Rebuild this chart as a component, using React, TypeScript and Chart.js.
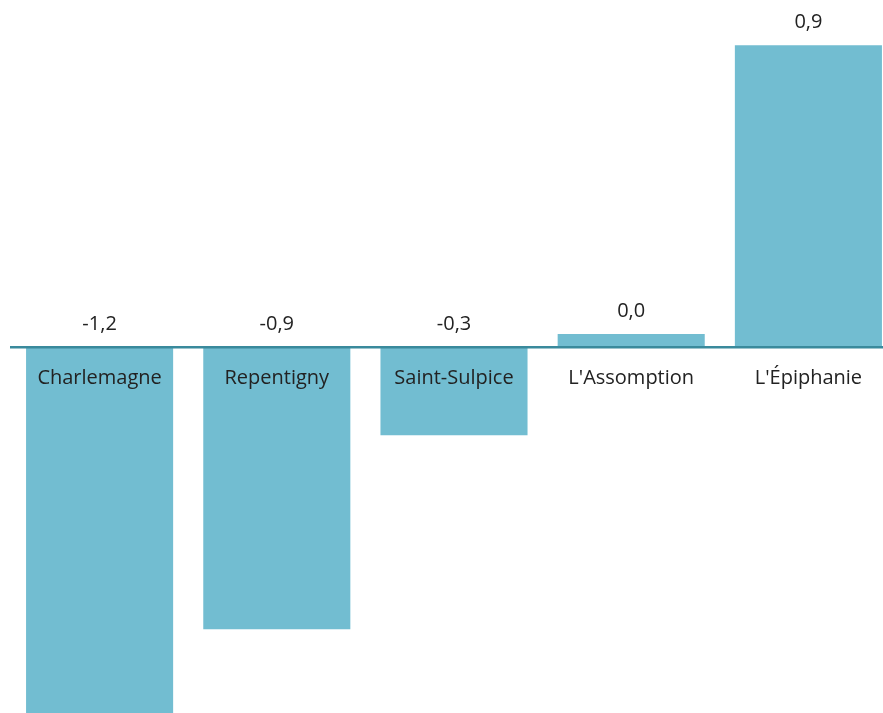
import React, { useEffect, useRef } from "react";
import { Chart, registerables } from "chart.js";

Chart.register(...registerables);

const categories = ["Charlemagne", "Repentigny", "Saint-Sulpice", "L'Assomption", "L'Épiphanie"];
const values = [-1.18, -0.88, -0.275, 0.04, 0.94];

const BAR_COLOR = "#72BDD1";
const AXIS_COLOR = "#3A8A9C";
const TEXT_COLOR = "#222222";
const FONT_FAMILY = "'Open Sans', sans-serif";
const FONT_SIZE = 20;

const fmt = (v: number) => v.toFixed(1).replace(".", ",");

const valueLabels = {
  id: "valueLabels",
  afterDatasetsDraw(chart: any) {
    const { ctx } = chart;
    const meta = chart.getDatasetMeta(0);
    const zeroY = chart.scales.y.getPixelForValue(0);
    ctx.save();
    ctx.font = `${FONT_SIZE}px ${FONT_FAMILY}`;
    ctx.fillStyle = TEXT_COLOR;
    ctx.textAlign = "center";
    ctx.textBaseline = "middle";
    meta.data.forEach((bar: any, i: number) => {
      const v = values[i];
      const base = v >= 0 ? bar.y : zeroY;
      ctx.fillText(fmt(v), bar.x, base - 23);
    });
    ctx.restore();
  },
};

export default function App() {
  const ref = useRef<HTMLCanvasElement | null>(null);
  useEffect(() => {
    if (!ref.current) return;
    const chart = new Chart(ref.current, {
      type: "bar",
      data: {
        labels: categories,
        datasets: [
          {
            data: values,
            backgroundColor: BAR_COLOR,
            borderWidth: 0,
            barPercentage: 0.83,
            categoryPercentage: 1,
          },
        ],
      },
      options: {
        responsive: false,
        animation: false,
        layout: { padding: { left: 11, right: 3, top: 26, bottom: 8 } },
        plugins: { legend: { display: false }, tooltip: { enabled: false } },
        scales: {
          x: {
            position: { y: 0 } as any,
            grid: { display: false, drawTicks: false },
            border: { display: true, color: AXIS_COLOR, width: 2.4, z: 1 } as any,
            ticks: {
              z: 1,
              color: TEXT_COLOR,
              font: { family: FONT_FAMILY, size: FONT_SIZE },
              padding: 19,
              maxRotation: 0,
            },
          },
          y: {
            display: false,
            min: -1.2,
            max: 1.0,
          },
        },
      },
      plugins: [valueLabels],
    });
    return () => chart.destroy();
  }, []);
  return (
    <div style={{ position: "fixed", left: 0, top: 0 }}>
      <canvas ref={ref} width={900} height={740} style={{ display: "block" }} />
    </div>
  );
}
